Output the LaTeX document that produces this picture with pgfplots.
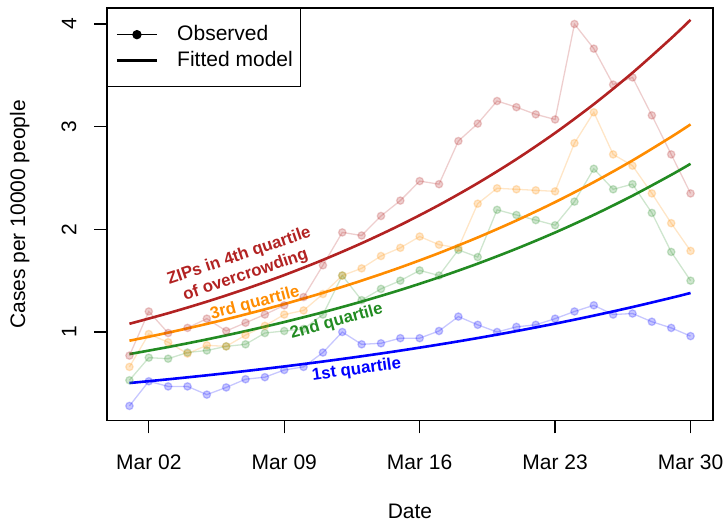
\documentclass[border=0pt]{standalone}
\usepackage{fontspec}
\setmainfont{Liberation Sans}
\usepackage{pgfplots}
\pgfplotsset{compat=1.18}
\usepackage{pgfplotstable}
\definecolor{cq4}{HTML}{B22222}
\definecolor{cq3}{HTML}{FF8C00}
\definecolor{cq2}{HTML}{228B22}
\definecolor{cq1}{HTML}{0000FF}

\pgfplotstableread{
day q1 q2 q3 q4
1 0.28 0.53 0.66 0.77
2 0.52 0.75 0.98 1.20
3 0.47 0.74 0.90 0.99
4 0.47 0.80 0.79 1.04
5 0.39 0.82 0.87 1.13
6 0.46 0.86 0.86 1.01
7 0.54 0.88 0.97 1.09
8 0.56 0.99 1.06 1.17
9 0.63 1.01 1.17 1.26
10 0.66 1.03 1.21 1.34
11 0.80 1.17 1.37 1.65
12 1.00 1.55 1.55 1.97
13 0.88 1.31 1.62 1.94
14 0.89 1.42 1.74 2.13
15 0.94 1.50 1.82 2.28
16 0.94 1.60 1.93 2.47
17 1.01 1.55 1.85 2.44
18 1.15 1.80 1.82 2.86
19 1.07 1.73 2.25 3.03
20 1.00 2.19 2.40 3.25
21 1.05 2.14 2.39 3.19
22 1.07 2.09 2.38 3.12
23 1.13 2.04 2.37 3.07
24 1.20 2.27 2.84 4.00
25 1.26 2.59 3.14 3.76
26 1.17 2.39 2.73 3.41
27 1.18 2.44 2.62 3.48
28 1.10 2.16 2.35 3.11
29 1.04 1.78 2.06 2.73
30 0.96 1.50 1.79 2.35
}\obs

\pgfplotstableread{
day q1 q2 q3 q4
1 0.5030 0.7850 0.9150 1.0800
3 0.5393 0.8534 0.9936 1.1829
5 0.5781 0.9279 1.0789 1.2956
7 0.6198 1.0088 1.1716 1.4190
9 0.6645 1.0968 1.2722 1.5542
11 0.7124 1.1924 1.3815 1.7023
13 0.7637 1.2964 1.5002 1.8645
15 0.8187 1.4094 1.6290 2.0421
17 0.8778 1.5323 1.7689 2.2366
19 0.9410 1.6659 1.9209 2.4497
21 1.0089 1.8112 2.0859 2.6831
23 1.0816 1.9691 2.2650 2.9387
25 1.1596 2.1408 2.4596 3.2187
27 1.2432 2.3275 2.6709 3.5253
29 1.3328 2.5304 2.9003 3.8612
30 1.3800 2.6384 3.0223 4.0409
}\fit

\begin{document}
\begin{tikzpicture}
\fontsize{21}{25}\selectfont
\path[use as bounding box] (-107pt,-101.3pt) rectangle (619pt,420.7pt);
\begin{axis}[
  at={(0pt,0pt)}, anchor=south west,
  scale only axis, width=606pt, height=412.7pt,
  xmin=-0.16, xmax=31.16, ymin=0.136, ymax=4.156,
  axis line style={line width=1.3pt},
  xtick={2,9,16,23,30},
  xticklabels={Mar 02,Mar 09,Mar 16,Mar 23,Mar 30},
  ytick={1,2,3,4}, yticklabels={1,2,3,4},
  tick align=outside, xtick pos=left, ytick pos=left,
  major tick length=12.6pt,
  tick style={line width=1.3pt, black},
  /pgf/number format/assume math mode=true,
  tick label style={font=\fontsize{21}{25}\selectfont},
  xticklabel style={anchor=north, inner sep=0pt, yshift=-21.2pt},
  yticklabel style={xshift=-17.9pt, rotate=90, anchor=south, inner sep=0pt},
  xlabel={Date}, ylabel={Cases per 10000 people},
  label style={font=\fontsize{21}{25}\selectfont},
  xlabel style={at={(axis description cs:0.5,-0.2200)}, anchor=center, inner sep=0pt},
  ylabel style={at={(axis description cs:-0.1441,0.5)}, rotate=0, anchor=center, inner sep=0pt},
  legend style={at={(0,1)}, anchor=north west, draw=black, line width=1.3pt, fill=white,
    inner xsep=8pt, inner ysep=13pt, row sep=0pt, column sep=0pt,
    font=\fontsize{21}{25}\selectfont,
    nodes={inner sep=0pt, minimum height=26pt},
    /tikz/every odd column/.append style={column sep=19pt}},
  legend cell align=left,
]
% observed
\addplot[cq1, opacity=0.22, line width=1.3pt, mark=*, mark size=3.7pt, mark options={draw=none, fill=cq1, opacity=0.22}, forget plot] table[x=day, y=q1] {\obs};
\addplot[cq2, opacity=0.22, line width=1.3pt, mark=*, mark size=3.7pt, mark options={draw=none, fill=cq2, opacity=0.22}, forget plot] table[x=day, y=q2] {\obs};
\addplot[cq3, opacity=0.22, line width=1.3pt, mark=*, mark size=3.7pt, mark options={draw=none, fill=cq3, opacity=0.22}, forget plot] table[x=day, y=q3] {\obs};
\addplot[cq4, opacity=0.22, line width=1.3pt, mark=*, mark size=3.7pt, mark options={draw=none, fill=cq4, opacity=0.22}, forget plot] table[x=day, y=q4] {\obs};
% fitted
\addplot[cq1, line width=2.6pt, smooth, no marks, forget plot] table[x=day, y=q1] {\fit};
\addplot[cq2, line width=2.6pt, smooth, no marks, forget plot] table[x=day, y=q2] {\fit};
\addplot[cq3, line width=2.6pt, smooth, no marks, forget plot] table[x=day, y=q3] {\fit};
\addplot[cq4, line width=2.6pt, smooth, no marks, forget plot] table[x=day, y=q4] {\fit};
% legend
\addlegendimage{black, line width=1.3pt, legend image code/.code={\draw[black, line width=1.3pt] (0pt,0pt) -- (40pt,0pt); \fill[black] (20pt,0pt) circle (4pt);}}
\addlegendentry{Observed}
\addlegendimage{black, line width=2.6pt, legend image code/.code={\draw[black, line width=2.6pt] (0pt,0pt) -- (40pt,0pt);}}
\addlegendentry{Fitted model}
% labels
\node[rotate=18.7, text=cq4, font=\bfseries\fontsize{16.8}{20}\selectfont, align=center] at (axis cs:6.84,1.643) {ZIPs in 4th quartile\\of overcrowding};
\node[rotate=14.7, text=cq3, font=\bfseries\fontsize{16.8}{20}\selectfont] at (axis cs:7.49,1.28) {3rd quartile};
\node[rotate=15.4, text=cq2, font=\bfseries\fontsize{16.8}{20}\selectfont] at (axis cs:11.71,1.10) {2nd quartile};
\node[rotate=8, text=cq1, font=\bfseries\fontsize{16.8}{20}\selectfont] at (axis cs:12.74,0.63) {1st quartile};
\end{axis}
\end{tikzpicture}
\end{document}
